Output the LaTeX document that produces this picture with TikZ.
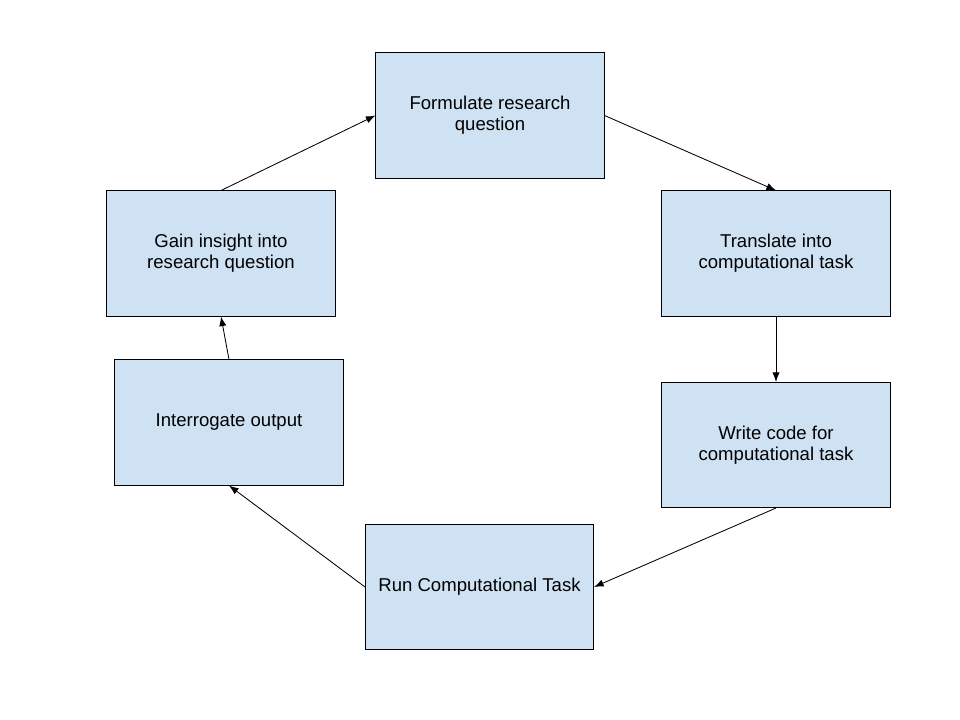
\documentclass[tikz,border=0pt]{standalone}
\usepackage{fontspec}
\setmainfont{Liberation Sans}
\usepackage{xcolor}
\usetikzlibrary{arrows.meta,positioning}
\definecolor{boxblue}{HTML}{CFE2F3}
\tikzset{
    stepbox/.style={draw=black,line width=0.7pt,fill=boxblue,minimum width=5.7cm,minimum height=3.125cm,
        align=center,inner sep=0pt,font=\fontsize{13.2}{14.9}\selectfont},
    flow/.style={line width=0.6pt,-{Latex[length=2.4mm,width=1.8mm]}}
}

\begin{document}
\begin{tikzpicture}[x=0.025cm,y=-0.025cm]
    % fix the page size
    \useasboundingbox (0,0) rectangle (960,720);

    % draw the boxes
    \node[stepbox] (formulate) at (490,115.5) {Formulate research\\question};
    \node[stepbox] (translate) at (776,253.5) {Translate into\\computational task};
    \node[stepbox] (writecode) at (776,445) {Write code for\\computational task};
    \node[stepbox] (runtask) at (479.5,587) {Run Computational Task};
    \node[stepbox] (interrogate) at (229,422.5) {Interrogate output};
    \node[stepbox] (gain) at (221,253.5) {Gain insight into\\research question};

    % draw the cycle
    \draw[flow] (formulate.east) -- (translate.north);
    \draw[flow] (translate.south) -- (writecode.north);
    \draw[flow] (writecode.south) -- (runtask.east);
    \draw[flow] (runtask.west) -- (interrogate.south);
    \draw[flow] (interrogate.north) -- (gain.south);
    \draw[flow] (gain.north) -- (formulate.west);
\end{tikzpicture}
\end{document}
